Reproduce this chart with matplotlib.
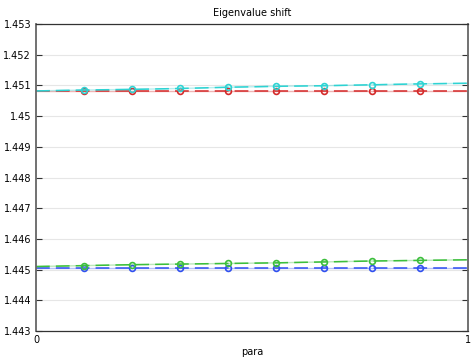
import matplotlib
matplotlib.use("Agg")
import matplotlib.pyplot as plt
import numpy as np

para = [0, 1/9, 2/9, 3/9, 4/9, 5/9, 6/9, 7/9, 8/9, 1]
cyan_vals = [1.45082, 1.45085, 1.45087, 1.45090, 1.45094, 1.45097, 1.45099, 1.45102, 1.45105, 1.45107]
red_vals = [1.45082, 1.45082, 1.45082, 1.45082, 1.45082, 1.45082, 1.45082, 1.45082, 1.45082, 1.45082]
green_vals = [1.44510, 1.44513, 1.44516, 1.44518, 1.44520, 1.44522, 1.44525, 1.44528, 1.44530, 1.44532]
blue_vals = [1.44506, 1.44506, 1.44506, 1.44506, 1.44506, 1.44506, 1.44506, 1.44506, 1.44506, 1.44506]
yticks = [1.443, 1.444, 1.445, 1.446, 1.447, 1.448, 1.449, 1.45, 1.451, 1.452, 1.453]
ytick_labels = ["1.443", "1.444", "1.445", "1.446", "1.447", "1.448", "1.449", "1.45", "1.451", "1.452", "1.453"]

fig = plt.figure(figsize=(4.77, 3.58), dpi=100)
ax = fig.add_axes([36/477, 27/358, 432.5/477, 307/358])

series = [
    (red_vals, "#d42a2a"),
    (cyan_vals, "#2ed3d3"),
    (blue_vals, "#3050f0"),
    (green_vals, "#3cbf3c"),
]
for vals, col in series:
    ax.plot(para, vals, color=col, lw=1.0, alpha=0.35, solid_capstyle="butt")
    ax.plot(para, vals, color=col, lw=1.1, linestyle=(0, (9, 4)),
            marker="o", markersize=4.2, markerfacecolor="none",
            markeredgecolor=col, markeredgewidth=1.2, markevery=slice(1, -1))

ax.set_xlim(0, 1)
ax.set_ylim(1.443, 1.453)
ax.set_yticks(yticks)
ax.set_yticklabels(ytick_labels)
ax.set_xticks([0, 1])
ax.set_xticklabels(["0", "1"])
ax.grid(axis="y", color="#e6e6e6", lw=0.8)
ax.set_axisbelow(True)
ax.tick_params(axis="y", direction="in", length=4, labelsize=7, right=True, left=True, color="#333333")
ax.tick_params(axis="x", length=0, labelsize=7, pad=3)
for s in ax.spines.values():
    s.set_color("#333333")
    s.set_linewidth(0.9)
ax.spines["left"].set_color("#666666")
ax.spines["left"].set_linewidth(1.3)
ax.spines["right"].set_color("#666666")
ax.spines["right"].set_linewidth(1.3)
ax.set_title("Eigenvalue shift", fontsize=7, pad=6)
ax.set_xlabel("para", fontsize=7, labelpad=1)

fig.savefig("out.png", dpi=100)
